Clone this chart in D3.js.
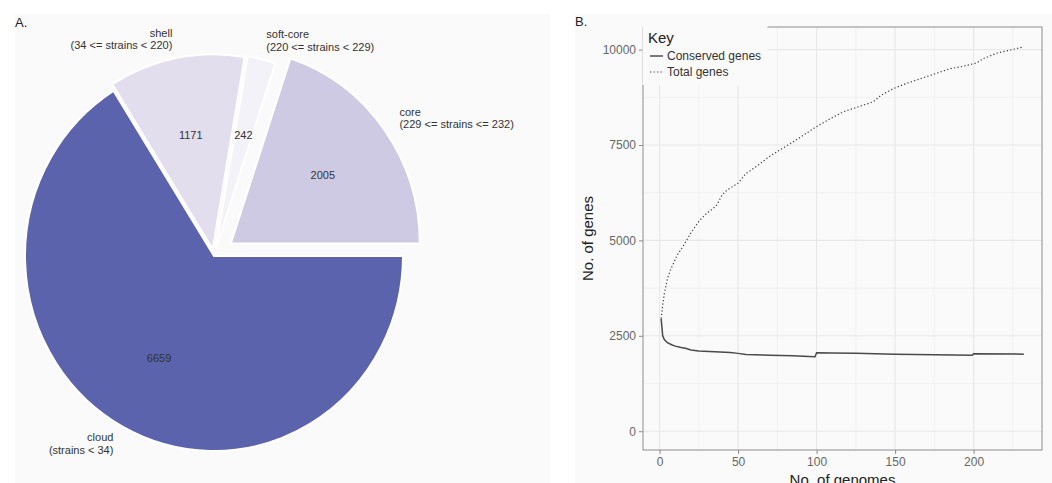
<!DOCTYPE html>
<html>
<head>
<meta charset="utf-8">
<script src="https://cdn.jsdelivr.net/npm/d3@7"></script>
<style>
  html, body { margin: 0; padding: 0; background: #ffffff; }
  svg { display: block; }
  text { font-family: "Liberation Sans", Arial, Helvetica, sans-serif; }
</style>
</head>
<body>
<svg id="chart" width="1052" height="483"></svg>
<script>
// ---------- Data ----------
const pieCategories = ["core", "soft-core", "shell", "cloud"];
const pieLabels = [
  ["core", "(229 <= strains <= 232)"],
  ["soft-core", "(220 <= strains < 229)"],
  ["shell", "(34 <= strains < 220)"],
  ["cloud", "(strains < 34)"]
];
const pieValues = [2005, 242, 1171, 6659];
const pieColors = ["#cfcae4", "#f3f2f9", "#e2deee", "#5a63ab"];
const pieExplode = [0.11, 0.04, 0.035, 0];

const conservedX = [1, 2, 3, 5, 8, 10, 13, 17, 20, 25, 35, 45, 50, 55, 70, 85, 95, 99, 100, 110, 125, 150, 175, 199, 200, 232];
const conservedY = [2950, 2500, 2400, 2320, 2260, 2230, 2200, 2170, 2130, 2100, 2080, 2060, 2040, 2010, 1990, 1975, 1960, 1950, 2055, 2050, 2040, 2020, 2005, 1990, 2030, 2020];

const totalX = [1, 2, 3, 5, 7, 11, 15, 20, 25, 30, 36, 38, 40, 43, 50, 55, 63, 70, 75, 85, 98, 107, 117, 128, 136, 141, 149, 157, 170, 185, 192, 202, 206, 215, 232];
const totalY = [2950, 3300, 3600, 4000, 4230, 4600, 4850, 5200, 5500, 5710, 5900, 6050, 6200, 6320, 6500, 6750, 6980, 7200, 7330, 7580, 7930, 8150, 8370, 8520, 8630, 8800, 8980, 9110, 9290, 9500, 9550, 9650, 9760, 9910, 10070];

const xTicks = [0, 50, 100, 150, 200];
const xMinorTicks = [25, 75, 125, 175, 225];
const yTicks = [0, 2500, 5000, 7500, 10000];
const yMinorTicks = [1250, 3750, 6250, 8750];

const legendLabels = ["Conserved genes", "Total genes"];

// ---------- Setup ----------
const svg = d3.select("#chart");
const bg = "#fafafa";

svg.append("rect").attr("x", 15).attr("y", 14).attr("width", 535).attr("height", 469).attr("fill", bg);
svg.append("rect").attr("x", 575).attr("y", 14).attr("width", 477).attr("height", 469).attr("fill", bg);

svg.append("text").attr("x", 15).attr("y", 27).attr("font-size", 13).attr("fill", "#222").text("A.");
svg.append("text").attr("x", 575).attr("y", 26).attr("font-size", 13).attr("fill", "#222").text("B.");

// ---------- Panel A: pie ----------
const cx = 214, cy = 256, rx = 189, ry = 195;
const pie = d3.pie().sort(null).value(d => d)
  .startAngle(Math.PI / 2).endAngle(Math.PI / 2 - 2 * Math.PI);
const arcs = pie(pieValues);
const unitArc = d3.arc().innerRadius(0).outerRadius(1);

const gPie = svg.append("g");
arcs.forEach((a, i) => {
  const mid = (a.startAngle + a.endAngle) / 2;
  const ox = cx + pieExplode[i] * rx * Math.sin(mid);
  const oy = cy - pieExplode[i] * ry * Math.cos(mid);
  gPie.append("path")
    .attr("d", unitArc({startAngle: a.startAngle, endAngle: a.endAngle}))
    .attr("transform", `translate(${ox},${oy}) scale(${rx},${ry})`)
    .attr("fill", pieColors[i])
    .attr("stroke", "#ffffff")
    .attr("stroke-width", 2)
    .attr("vector-effect", "non-scaling-stroke");
  gPie.append("text")
    .attr("x", ox + 0.6 * rx * Math.sin(mid))
    .attr("y", oy - 0.6 * ry * Math.cos(mid))
    .attr("text-anchor", "middle").attr("dominant-baseline", "central")
    .attr("font-size", 11).attr("fill", "#333")
    .text(pieValues[i]);
  const lx = ox + 1.1 * rx * Math.sin(mid);
  const ly = oy - 1.1 * ry * Math.cos(mid);
  const t = gPie.append("text")
    .attr("x", lx).attr("y", ly)
    .attr("text-anchor", Math.sin(mid) >= 0 ? "start" : "end")
    .attr("font-size", 11).attr("fill", "#333");
  const lines = pieLabels[i];
  const lh = 12.7;
  lines.forEach((ln, k) => {
    t.append("tspan").attr("x", lx)
      .attr("y", ly + (k - (lines.length - 1) / 2) * lh)
      .attr("dominant-baseline", "central")
      .text(ln);
  });
});

// ---------- Panel B: line chart ----------
const pL = 643, pR = 1042, pT = 27, pB = 450;
const x = d3.scaleLinear().domain([-10.55, 243.55]).range([pL, pR]);
const y = d3.scaleLinear().domain([-505, 10605]).range([pB + 0.5, pT - 0.5]);

const gB = svg.append("g");
gB.selectAll(".vminor").data(xMinorTicks).join("line")
  .attr("x1", d => x(d)).attr("x2", d => x(d)).attr("y1", pT).attr("y2", pB)
  .attr("stroke", "#efefef").attr("stroke-width", 0.8);
gB.selectAll(".hminor").data(yMinorTicks).join("line")
  .attr("y1", d => y(d)).attr("y2", d => y(d)).attr("x1", pL).attr("x2", pR)
  .attr("stroke", "#efefef").attr("stroke-width", 0.8);
gB.selectAll(".vmajor").data(xTicks).join("line")
  .attr("x1", d => x(d)).attr("x2", d => x(d)).attr("y1", pT).attr("y2", pB)
  .attr("stroke", "#e8e8e8").attr("stroke-width", 1.1);
gB.selectAll(".hmajor").data(yTicks).join("line")
  .attr("y1", d => y(d)).attr("y2", d => y(d)).attr("x1", pL).attr("x2", pR)
  .attr("stroke", "#e8e8e8").attr("stroke-width", 1.1);

const lineGen = d3.line().x(d => x(d[0])).y(d => y(d[1]));
gB.append("path")
  .attr("d", lineGen(totalX.map((v, i) => [v, totalY[i]])))
  .attr("fill", "none").attr("stroke", "#444").attr("stroke-width", 1.2)
  .attr("stroke-dasharray", "1.3,2.2");
gB.append("path")
  .attr("d", lineGen(conservedX.map((v, i) => [v, conservedY[i]])))
  .attr("fill", "none").attr("stroke", "#4a4a4a").attr("stroke-width", 1.5);

gB.append("rect").attr("x", pL).attr("y", pT).attr("width", pR - pL).attr("height", pB - pT)
  .attr("fill", "none").attr("stroke", "#8c8c8c").attr("stroke-width", 1);

const xAxis = d3.axisBottom(x).tickValues(xTicks).tickSize(4).tickPadding(3).tickFormat(d3.format("d"));
const yAxis = d3.axisLeft(y).tickValues(yTicks).tickSize(4).tickPadding(3).tickFormat(d3.format("d"));
const gx = gB.append("g").attr("transform", `translate(0,${pB})`).call(xAxis);
const gy = gB.append("g").attr("transform", `translate(${pL},0)`).call(yAxis);
[gx, gy].forEach(g => {
  g.select(".domain").remove();
  g.selectAll(".tick line").attr("stroke", "#8c8c8c");
  g.selectAll(".tick text").attr("fill", "#666").attr("font-size", 12)
    .attr("font-family", "'Liberation Sans', Arial, sans-serif");
});

gB.append("text").attr("transform", `translate(593,${(pT + pB) / 2}) rotate(-90)`)
  .attr("text-anchor", "middle").attr("font-size", 15).attr("fill", "#222").text("No. of genes");
gB.append("text").attr("x", (pL + pR) / 2).attr("y", 485)
  .attr("text-anchor", "middle").attr("font-size", 15).attr("fill", "#222").text("No. of genomes");

const gL = gB.append("g");
gL.append("rect").attr("x", pL - 0.5).attr("y", pT - 1).attr("width", 125).attr("height", 59).attr("fill", bg);
gL.append("text").attr("x", 648).attr("y", 43).attr("font-size", 15).attr("fill", "#222").text("Key");
legendLabels.forEach((lab, i) => {
  const yy = 56 + i * 16;
  gL.append("line").attr("x1", 650).attr("x2", 663).attr("y1", yy).attr("y2", yy)
    .attr("stroke", "#444").attr("stroke-width", i === 0 ? 1.4 : 1.2)
    .attr("stroke-dasharray", i === 0 ? null : "1.3,2.2");
  gL.append("text").attr("x", 667).attr("y", yy).attr("dominant-baseline", "central")
    .attr("font-size", 12).attr("fill", "#333").text(lab);
});
</script>
</body>
</html>
